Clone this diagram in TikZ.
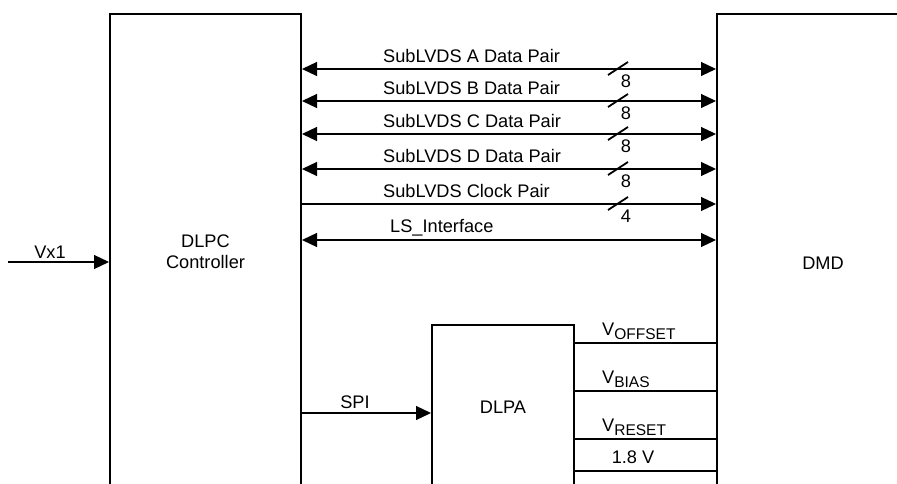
\documentclass[tikz,border=0pt]{standalone}
\usepackage{fontspec}
\setmainfont{Liberation Sans}
\usetikzlibrary{arrows.meta,positioning}
\newcommand{\vsub}[1]{V\raisebox{-4pt}{\fontsize{15.5}{15.5}\selectfont #1}}

\begin{document}
\begin{tikzpicture}[
  x=1pt,y=-1pt,
  font=\fontsize{18.2}{21}\selectfont,
  blk/.style={draw,line width=2pt,anchor=north west,align=center,inner sep=0pt},
  sig/.style={line width=1.2pt},
  uni/.style={sig,-{Triangle[length=15pt,width=14pt]}},
  bi/.style={sig,{Triangle[length=15pt,width=14pt]}-{Triangle[length=15pt,width=14pt]}},
  lbl/.style={anchor=west,inner sep=0pt},
  cnt/.style={inner sep=0pt}]
\useasboundingbox (0,0) rectangle (897,484);
\clip (0,0) rectangle (897,484);
% blocks
\node[blk,minimum width=191pt,minimum height=476pt] (dlpc) at (109,13) {DLPC\\Controller};
\node[blk,minimum width=212pt,minimum height=498pt] (dmd)  at (716,13) {DMD};
\node[blk,minimum width=142pt,minimum height=164pt] (dlpa) at (431,324) {DLPA};
% SubLVDS buses
\foreach \y/\txt/\n in {69/SubLVDS A Data Pair/8,101/SubLVDS B Data Pair/8,
                        134/SubLVDS C Data Pair/8,169/SubLVDS D Data Pair/8}{
  \draw[bi] (dlpc.east |- 0,\y) -- (dmd.west |- 0,\y);
  \node[lbl] at (383,\y-13) {\txt};
  \draw[line width=1.8pt] (608,\y+6) -- (628,\y-7);
  \node[cnt] at (626,\y+12) {\n};
}
\draw[uni] (dlpc.east |- 0,204) -- (dmd.west |- 0,204);
\node[lbl] at (383,191) {SubLVDS Clock Pair};
\draw[line width=1.8pt] (608,210) -- (628,197);
\node[cnt] at (626,216) {4};
\draw[bi] (dlpc.east |- 0,240) -- (dmd.west |- 0,240);
\node[lbl] at (390,228) {LS\_Interface};
% video input
\coordinate (vin) at (8,262);
\draw[uni] (vin) -- (dlpc.west |- vin);
\node[cnt] at (50,252) {Vx1};
% SPI
\draw[uni] (dlpc.east |- 0,413) -- (dlpa.west |- 0,413);
\node[cnt] at (355,402) {SPI};
% DMD supplies
\foreach \y/\txt in {343/\vsub{OFFSET},391/\vsub{BIAS},439/\vsub{RESET}}{
  \draw[sig] (dlpa.east |- 0,\y) -- (dmd.west |- 0,\y);
  \node[lbl] at (602,\y-12) {\txt};
}
\draw[sig] (dlpa.east |- 0,471) -- (dmd.west |- 0,471);
\node[cnt] at (633,457) {1.8 V};
\end{tikzpicture}
\end{document}
